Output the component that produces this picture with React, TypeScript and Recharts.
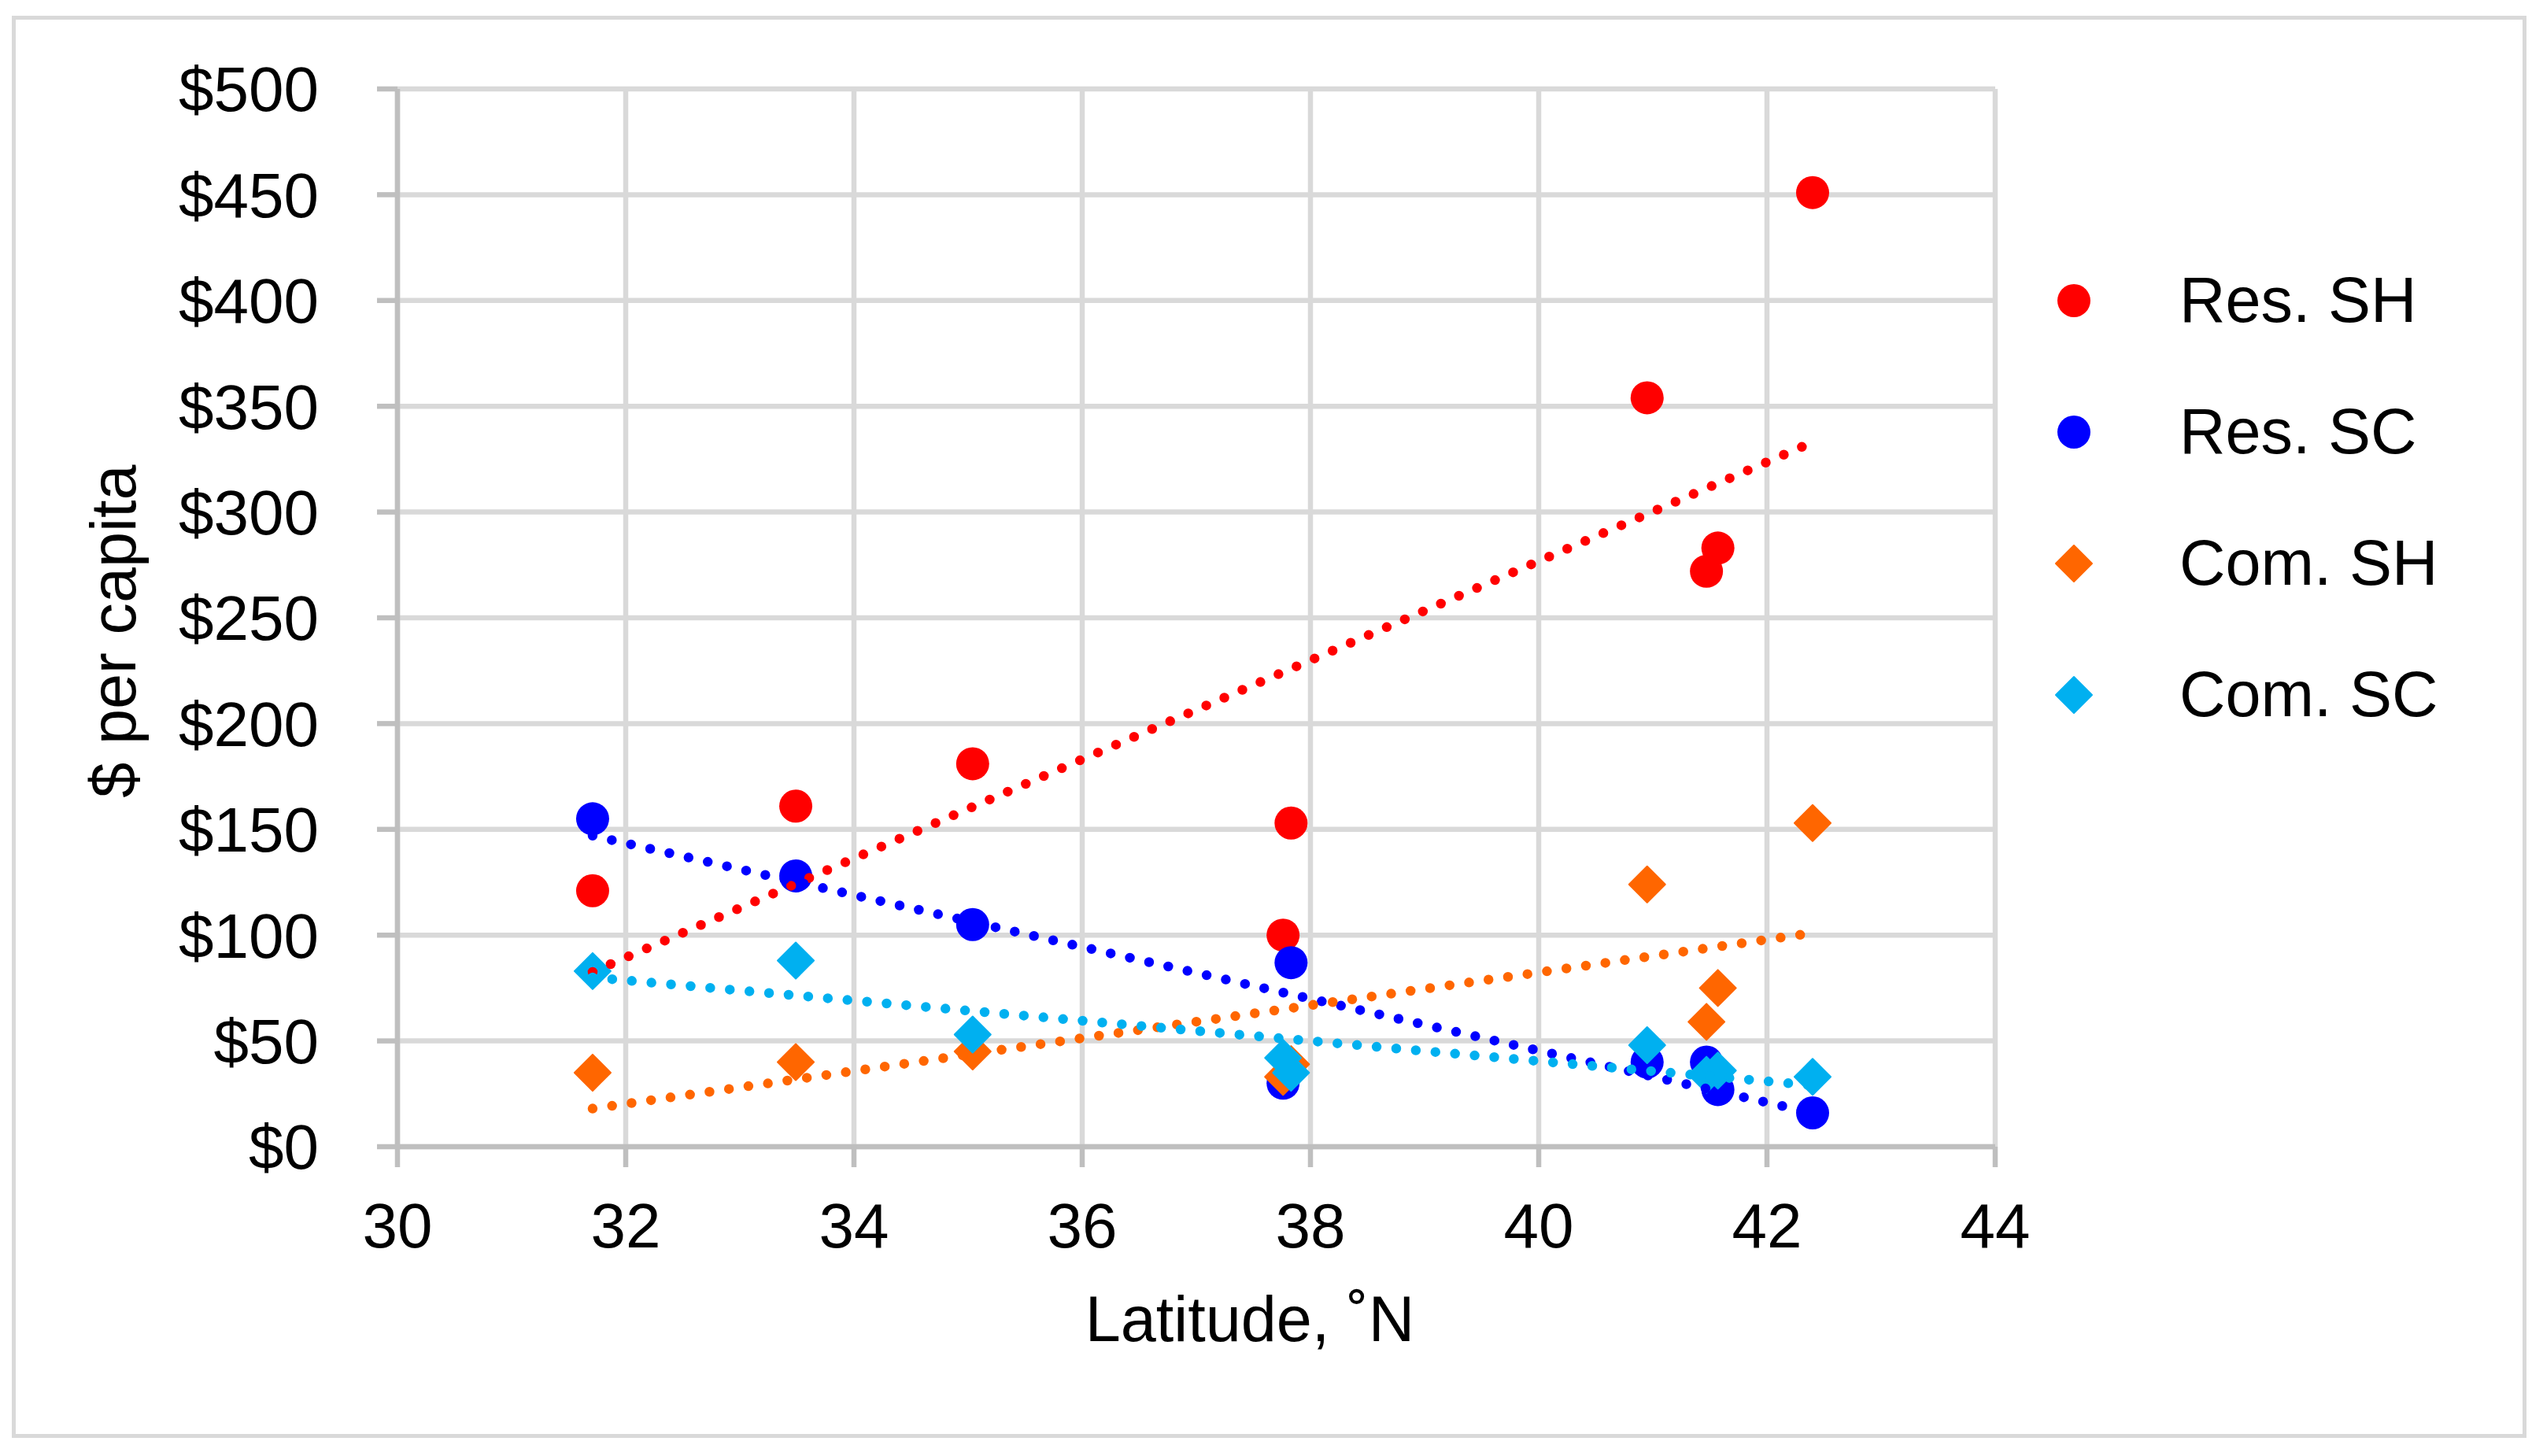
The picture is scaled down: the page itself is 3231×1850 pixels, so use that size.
import React from 'react';
import { ScatterChart, Scatter, XAxis, YAxis, CartesianGrid, Legend } from 'recharts';

// ---- data ----
const latitudes = [31.71, 33.49, 35.04, 37.76, 37.83, 40.95, 41.47, 41.57, 42.4];
const resSH = [121, 161, 181, 100, 153, 354, 272, 283, 451];
const resSC = [155, 128, 105, 30, 87, 40, 40, 27, 16];
const comSH = [35, 40, 45, 33, 39, 124, 59, 75, 153];
const comSC = [83, 88, 53, 42, 35, 48, 34, 36, 33];

// linear trendline end points (as drawn in the reference)
const trendLatitudes = [31.71, 42.4];
const resSHTrend = [82.6, 333];
const resSCTrend = [147, 16];
const comSHTrend = [18, 101];
const comSCTrend = [80, 29];

const xTicks = [30, 32, 34, 36, 38, 40, 42, 44];
const yTicks = [0, 50, 100, 150, 200, 250, 300, 350, 400, 450, 500];

const seriesNames = ['Res. SH', 'Res. SC', 'Com. SH', 'Com. SC'];
const seriesColors = ['#FF0000', '#0000FF', '#FF6600', '#00B0F0'];
const seriesShapes = ['circle', 'circle', 'diamond', 'diamond'];

const xLabel = 'Latitude, ˚N';
const yLabel = '$ per capita';

// ---- styling ----
const FONT = '"Liberation Sans", Arial, Helvetica, sans-serif';
const GRID = '#D9D9D9';
const AXIS = '#BFBFBF';
const W = 3215;
const H = 1834;

const toPoints = (xs: number[], ys: number[]) => xs.map((x, i) => ({ x, y: ys[i] }));

const seriesValues = [resSH, resSC, comSH, comSC];
const trendValues = [resSHTrend, resSCTrend, comSHTrend, comSCTrend];

const makeShape = (kind: string, color: string) => (props: any) => {
  const { cx, cy } = props;
  if (cx == null || cy == null) return <g />;
  if (kind === 'circle') return <circle cx={cx} cy={cy} r={21} fill={color} />;
  const h = 23;
  return (
    <path
      d={`M${cx},${cy - h}L${cx + h},${cy}L${cx},${cy + h}L${cx - h},${cy}Z`}
      fill={color}
      stroke={color}
      strokeWidth={2}
      strokeLinejoin="round"
    />
  );
};

const emptyShape = () => <g />;

const YTick = (props: any) => (
  <text x={props.x} y={props.y} dy="0.355em" textAnchor="end" fontSize={80} fontFamily={FONT} fill="#000">
    {`$${props.payload.value}`}
  </text>
);

const XTick = (props: any) => (
  <text x={props.x} y={props.y} dy="0.355em" textAnchor="middle" fontSize={80} fontFamily={FONT} fill="#000">
    {props.payload.value}
  </text>
);

const XLabelContent = (props: any) => {
  const vb = props.viewBox || {};
  return (
    <text x={vb.x + vb.width / 2 + 68} y={vb.y + 247} textAnchor="middle" fontSize={81} fontFamily={FONT} fill="#000">
      {xLabel}
    </text>
  );
};

const YLabelContent = (props: any) => {
  const vb = props.viewBox || {};
  const x = vb.x - 133;
  const y = vb.y + vb.height / 2 + 17;
  return (
    <text x={x} y={y} transform={`rotate(-90 ${x} ${y})`} textAnchor="middle" fontSize={81} fontFamily={FONT} fill="#000">
      {yLabel}
    </text>
  );
};

const LegendContent = () => (
  <div style={{ fontFamily: FONT, fontSize: 81, color: '#000' }}>
    {seriesNames.map((name, i) => (
      <div key={name} style={{ display: 'flex', alignItems: 'center', height: 167 }}>
        <svg width={60} height={60} style={{ display: 'block', flex: '0 0 auto' }}>
          {seriesShapes[i] === 'circle' ? (
            <circle cx={30} cy={30} r={21} fill={seriesColors[i]} />
          ) : (
            <path d="M30,7L53,30L30,53L7,30Z" fill={seriesColors[i]} stroke={seriesColors[i]} strokeWidth={2} strokeLinejoin="round" />
          )}
        </svg>
        <span style={{ marginLeft: 104, lineHeight: 1, whiteSpace: 'nowrap' }}>{name}</span>
      </div>
    ))}
  </div>
);

export default function App() {
  return (
    <div style={{ position: 'relative', width: W, height: H, background: '#fff' }}>
      <div
        style={{
          position: 'absolute',
          left: 7,
          top: 12,
          width: 3195,
          height: 1807,
          border: `5px solid ${GRID}`,
          boxSizing: 'border-box',
        }}
      />
      <div style={{ position: 'absolute', left: 0, top: 0 }}>
        <ScatterChart width={W} height={H} margin={{ top: 105, right: 688, bottom: 185, left: 297 }}>
          <CartesianGrid stroke={GRID} strokeWidth={6.5} horizontal vertical />
          <XAxis
            type="number"
            dataKey="x"
            domain={[30, 44]}
            ticks={xTicks}
            interval={0}
            allowDataOverflow
            height={200}
            tickSize={26}
            tickMargin={74}
            axisLine={{ stroke: AXIS, strokeWidth: 6.5 }}
            tickLine={{ stroke: AXIS, strokeWidth: 6.5 }}
            tick={<XTick />}
            label={{ content: XLabelContent }}
          />
          <YAxis
            type="number"
            dataKey="y"
            domain={[0, 500]}
            ticks={yTicks}
            interval={0}
            allowDataOverflow
            width={200}
            tickSize={26}
            tickMargin={74}
            axisLine={{ stroke: AXIS, strokeWidth: 6.5 }}
            tickLine={{ stroke: AXIS, strokeWidth: 6.5 }}
            tick={<YTick />}
            label={{ content: YLabelContent }}
          />
          <Legend
            layout="vertical"
            align="center"
            verticalAlign="middle"
            wrapperStyle={{ left: 2597, top: 290, width: 600, height: 'auto' }}
            content={<LegendContent />}
          />
          {seriesNames.map((name, i) => (
            <Scatter
              key={name}
              name={name}
              data={toPoints(latitudes, seriesValues[i])}
              fill={seriesColors[i]}
              shape={makeShape(seriesShapes[i], seriesColors[i])}
              isAnimationActive={false}
            />
          ))}
          {seriesNames.map((name, i) => (
            <Scatter
              key={`${name}-trend`}
              name={`${name} trend`}
              data={toPoints(trendLatitudes, trendValues[i])}
              fill={seriesColors[i]}
              shape={emptyShape}
              legendType="none"
              line={{
                stroke: seriesColors[i],
                strokeWidth: 12.5,
                strokeDasharray: '0 25',
                strokeLinecap: 'round',
                fill: 'none',
              }}
              isAnimationActive={false}
            />
          ))}
        </ScatterChart>
      </div>
    </div>
  );
}
